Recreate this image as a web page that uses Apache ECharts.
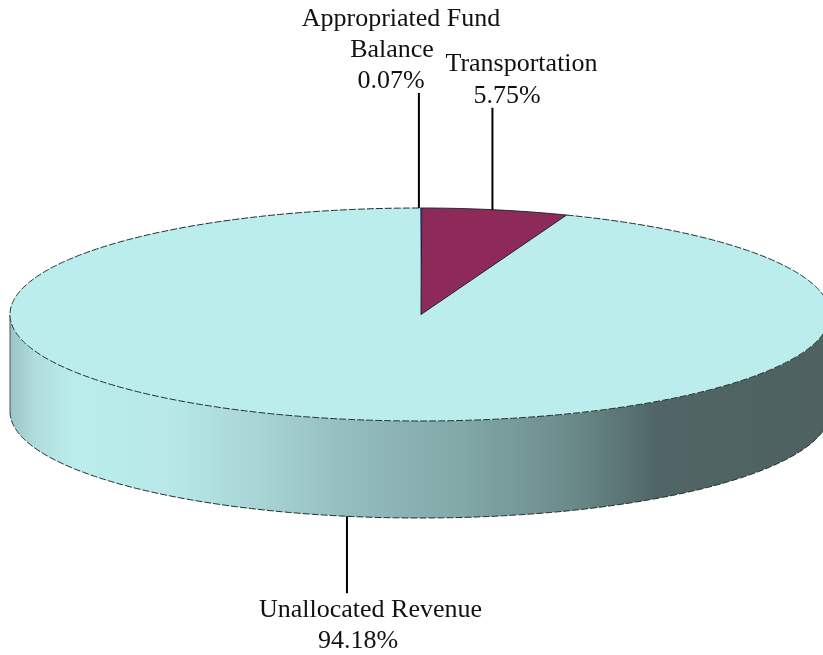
<!DOCTYPE html>
<html>
<head>
<meta charset="utf-8">
<title>Revenue pie</title>
<style>
    html, body { margin: 0; padding: 0; background: #fff; }
    #chart { width: 823px; height: 655px; }
</style>
<script src="https://cdn.jsdelivr.net/npm/echarts@6/dist/echarts.min.js"></script>
</head>
<body>
<div id="chart"></div>
<script>
// data, clockwise from the top of the pie
const categories = ['Appropriated Fund\nBalance', 'Transportation', 'Unallocated Revenue'];
const shares = [0.07, 5.75, 94.18];

// styles
const topColors = ['#4a62a8', '#8e2a59', '#bbeded'];
const wallStops = [
    [0, '#9cc4c4'],
    [0.03, '#b0dddd'],
    [0.08, '#bbeded'],
    [0.2, '#b8e8e8'],
    [0.3, '#a8d5d5'],
    [0.42, '#93bcbc'],
    [0.55, '#82a8a8'],
    [0.68, '#6c8c8c'],
    [0.79, '#506565'],
    [1, '#4f6161']
];

// pie geometry
const cx = 420, cy = 314.5, rx = 410, ry = 106.5, depth = 97;
const apexShift = 1; // tip of the slices sits slightly right of the ellipse centre

// leader lines
const leaderShift = [-2, -3, 1.5];
const leaderLength = [115, 102, 77];

// label line centres (lines are not centred on each other in the original)
const labelLineX = [[401, 392, 391], [521.5, 507], [370.5, 358]];
const labelLineY = [[19, 50, 81], [64, 96], [610, 641]];

const total = shares.reduce((a, b) => a + b, 0);

// t = radians clockwise from the top
const topPoint = t => [cx + rx * Math.sin(t), cy - ry * Math.cos(t)];
const arc = (from, to, dy) => {
    const pts = [];
    const steps = Math.max(2, Math.ceil(Math.abs(to - from) / 0.01));
    for (let i = 0; i <= steps; i++) {
        const p = topPoint(from + (to - from) * i / steps);
        pts.push([p[0], p[1] + dy]);
    }
    return pts;
};

const renderSlice = (params, api) => {
    const i = params.dataIndex;
    const before = shares.slice(0, i).reduce((a, b) => a + b, 0);
    const start = before / total * Math.PI * 2;
    const end = (before + api.value(0)) / total * Math.PI * 2;
    const mid = (start + end) / 2;
    const children = [];

    // side wall: only the front half of the rim shows
    const wallFrom = Math.max(start, Math.PI / 2);
    const wallTo = Math.min(end, Math.PI * 1.5);
    if (wallFrom < wallTo) {
        const upper = arc(wallFrom, wallTo, 0);
        const lower = arc(wallTo, wallFrom, depth);
        children.push({
            type: 'polygon',
            z2: 1,
            shape: { points: upper.concat(lower) },
            style: {
                fill: {
                    type: 'linear', global: true,
                    x: cx - rx, y: 0, x2: cx + rx, y2: 0,
                    colorStops: wallStops.map(s => ({ offset: s[0], color: s[1] }))
                },
                stroke: 'none'
            }
        });
        children.push({
            type: 'polyline',
            z2: 2,
            shape: { points: lower },
            style: { fill: 'none', stroke: '#1f2d2d', lineWidth: 1, lineDash: [7, 2] }
        });
        const leftEdge = topPoint(Math.PI * 1.5);
        children.push({
            type: 'line',
            z2: 2,
            shape: { x1: leftEdge[0], y1: leftEdge[1], x2: leftEdge[0], y2: leftEdge[1] + depth },
            style: { stroke: '#44595a', lineWidth: 1 }
        });
    }

    // top face
    const apex = [cx + apexShift, cy];
    children.push({
        type: 'polygon',
        z2: i === 2 ? 3 : 4,
        shape: { points: [apex].concat(arc(start, end, 0)) },
        style: { fill: api.visual('color'), stroke: 'none' }
    });
    children.push({
        type: 'polyline',
        z2: 5,
        shape: { points: arc(start, end, 0) },
        style: { fill: 'none', stroke: '#1f2d2d', lineWidth: 1, lineDash: i === 2 ? [7, 2] : null }
    });
    if (i === 1) {
        // dark edges of the maroon slice
        children.push({
            type: 'polyline',
            z2: 5,
            shape: { points: [topPoint(start), apex, topPoint(end)] },
            style: { fill: 'none', stroke: '#1f1f33', lineWidth: 1 }
        });
    }

    // leader line and label
    const back = Math.cos(mid) > 0;
    const anchor = topPoint(mid);
    const ax = anchor[0] + leaderShift[i];
    const ay = back ? anchor[1] : anchor[1] + depth;
    children.push({
        type: 'line',
        z2: 6,
        shape: { x1: ax, y1: ay, x2: ax, y2: back ? ay - leaderLength[i] : ay + leaderLength[i] },
        style: { stroke: '#000', lineWidth: 2 }
    });
    const lines = String(api.value(1)).split('\n').concat(api.value(0).toFixed(2) + '%');
    lines.forEach((line, n) => {
        children.push({
            type: 'text',
            z2: 6,
            style: {
                x: labelLineX[i][n],
                y: labelLineY[i][n],
                text: line,
                font: '26px "Liberation Serif"',
                fill: '#111',
                align: 'center',
                verticalAlign: 'middle'
            }
        });
    });
    return { type: 'group', children };
};

const chart = echarts.init(document.getElementById('chart'));
chart.setOption({
    animation: false,
    color: topColors,
    series: [{
        type: 'custom',
        coordinateSystem: 'none',
        colorBy: 'data',
        renderItem: renderSlice,
        encode: { value: 0 },
        dimensions: ['share', { name: 'name', type: 'ordinal' }],
        data: shares.map((v, i) => ({ name: categories[i], value: [v, categories[i]], itemStyle: { color: topColors[i] } }))
    }]
});
</script>
</body>
</html>
